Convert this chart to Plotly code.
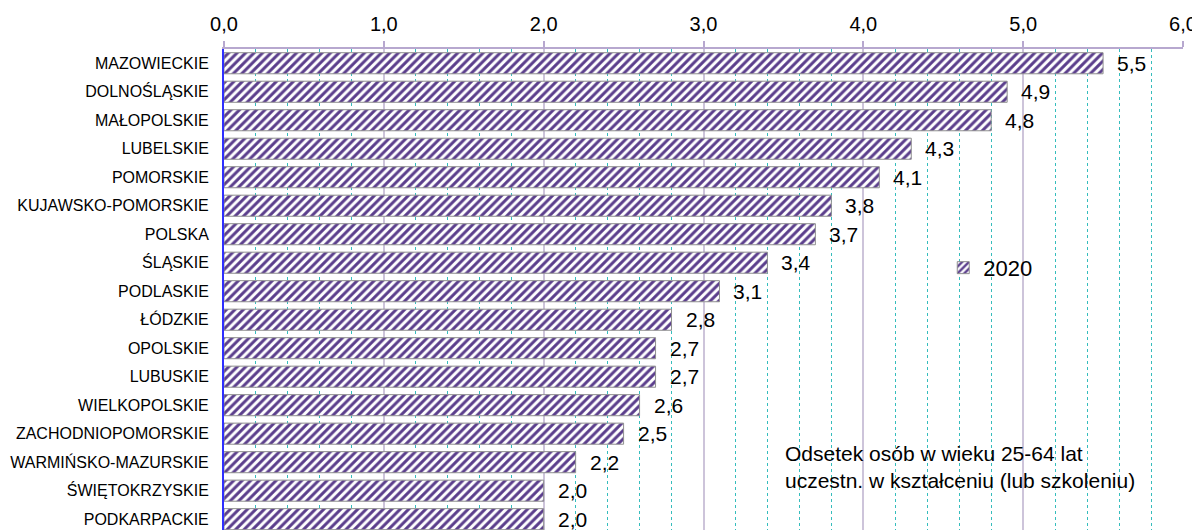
import plotly.graph_objects as go

categories = ["MAZOWIECKIE", "DOLNOŚLĄSKIE", "MAŁOPOLSKIE", "LUBELSKIE", "POMORSKIE",
              "KUJAWSKO-POMORSKIE", "POLSKA", "ŚLĄSKIE", "PODLASKIE", "ŁÓDZKIE",
              "OPOLSKIE", "LUBUSKIE", "WIELKOPOLSKIE", "ZACHODNIOPOMORSKIE",
              "WARMIŃSKO-MAZURSKIE", "ŚWIĘTOKRZYSKIE", "PODKARPACKIE"]
values_2020 = [5.5, 4.9, 4.8, 4.3, 4.1, 3.8, 3.7, 3.4, 3.1, 2.8, 2.7, 2.7, 2.6, 2.5, 2.2, 2.0, 2.0]
x_ticks = [0, 1, 2, 3, 4, 5, 6]

FONT = "Arial, Liberation Sans, sans-serif"

fig = go.Figure()
fig.add_trace(go.Bar(
    y=categories, x=values_2020, orientation="h", name="2020",
    width=0.74,
    marker=dict(color="white",
                line=dict(color="#8f8f8f", width=1),
                pattern=dict(shape="/", fgcolor="#5b3e8c", bgcolor="white", fgopacity=1,
                             size=6, solidity=0.5, fillmode="overlay")),
))

value_labels = [dict(x=v, y=c, xref="x", yref="y", text=f"{v:.1f}".replace(".", ","),
                     xanchor="left", yanchor="middle", xshift=12, yshift=0,
                     showarrow=False, font=dict(family=FONT, size=21, color="black"))
                for c, v in zip(categories, values_2020)]

fig.update_layout(
    width=1192, height=522,
    margin=dict(l=216, r=17, t=41, b=0),
    plot_bgcolor="white", paper_bgcolor="white",
    separators=", ",
    font=dict(family=FONT, color="black"),
    showlegend=True,
    legend=dict(x=0.75, y=0.545, xanchor="left", yanchor="middle",
                font=dict(size=22), bgcolor="rgba(0,0,0,0)"),
    xaxis=dict(side="top", range=[0, 6], tickvals=x_ticks, tickformat=".1f",
               tickfont=dict(size=20), showgrid=True, gridcolor="#cdc4da", gridwidth=2,
               ticks="outside", ticklen=6, tickcolor="#b7a8cf", tickwidth=2,
               showline=True, linecolor="#b7a8cf", linewidth=2,
               zeroline=False, automargin=False, ticklabelstandoff=2,
               minor=dict(dtick=0.2, showgrid=True, gridcolor="#35bdbd",
                          griddash="dot", gridwidth=1, ticks="")),
    yaxis=dict(range=[16.38, -0.5], tickfont=dict(size=16), ticks="",
               showline=True, linecolor="#2f2fff", linewidth=2, showgrid=False,
               automargin=False, ticklabelstandoff=10),
    annotations=value_labels + [dict(xref="paper", yref="paper", x=0.583, y=0.132,
                      xanchor="left", yanchor="middle", align="left",
                      showarrow=False,
                      text="Odsetek osób w wieku 25-64 lat<br>uczestn. w kształceniu (lub szkoleniu)",
                      font=dict(size=21, color="black"))],
)

fig.write_html("out.html")
